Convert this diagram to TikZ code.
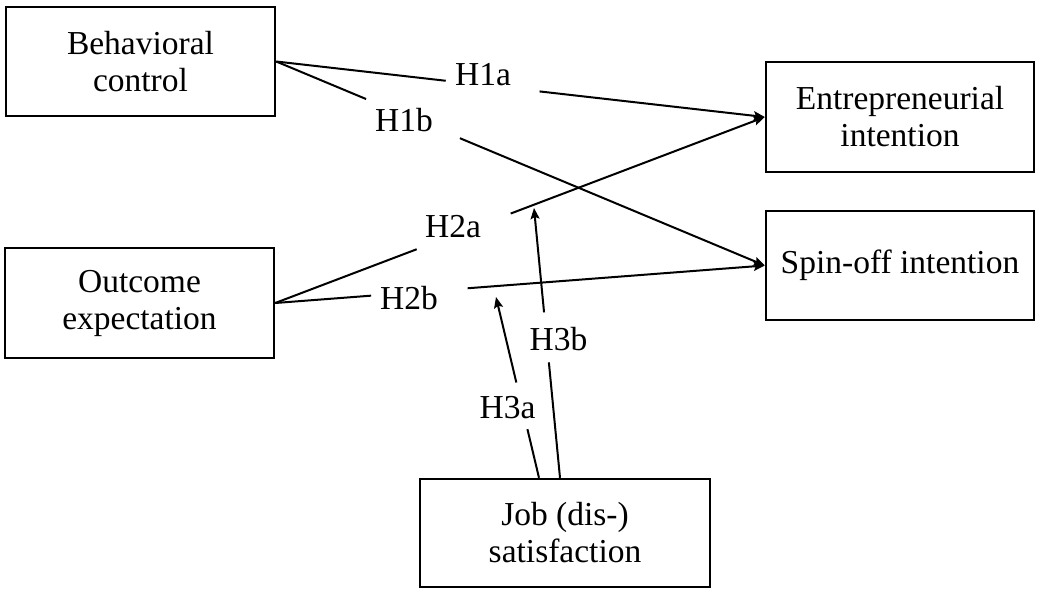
\documentclass[tikz,border=0pt]{standalone}
\usepackage{fontspec}
\setmainfont{Liberation Serif}
\usetikzlibrary{calc,arrows.meta}
\begin{document}
\begin{tikzpicture}[x=1pt,y=-1pt,
  every node/.style={font=\fontsize{33.5}{37}\selectfont},
  box/.style={draw,line width=2.4pt,inner sep=0pt,align=center},
  link/.style={line width=2pt},
  arr/.style={line width=2pt,-{Stealth[length=11pt,width=9pt,inset=2pt]}},
  hyp/.style={anchor=base,inner sep=0pt}]
\useasboundingbox (0,0) rectangle (1037,590);

% constructs
\node[box,minimum width=269pt,minimum height=109pt] (bc) at (140.5,61.5) {Behavioral\\control};
\node[box,minimum width=269pt,minimum height=110pt] (oe) at (139.5,303) {Outcome\\expectation};
\node[box,minimum width=268pt,minimum height=110pt] (ei) at (900,117) {Entrepreneurial\\intention};
\node[box,minimum width=268pt,minimum height=109pt] (so) at (900,265.5) {Spin-off intention};
\node[box,minimum width=290pt,minimum height=108pt] (jb) at (565,533) {Job (dis-)\\satisfaction};

% hypothesis labels
\node[hyp] (h1a) at (483,85) {H1a};
\node[hyp] (h1b) at (404,131) {H1b};
\node[hyp] (h2a) at (453,237) {H2a};
\node[hyp] (h2b) at (409,309) {H2b};
\node[hyp] (h3a) at (507.5,418) {H3a};
\node[hyp] (h3b) at (558.5,350) {H3b};

% direct effects, broken around their labels
\draw[link] (bc.east) -- ($(bc.east)!0.347!(ei.west)$);
\draw[arr] ($(bc.east)!0.539!(ei.west)$) -- (ei.west);
\draw[link] (bc.east) -- ($(bc.east)!0.184!(so.west)$);
\draw[arr] ($(bc.east)!0.376!(so.west)$) -- (so.west);
\draw[link] (oe.east) -- ($(oe.east)!0.289!(ei.west)$);
\draw[arr] ($(oe.east)!0.481!(ei.west)$) -- (ei.west);
\draw[link] (oe.east) -- ($(oe.east)!0.196!(so.west)$);
\draw[arr] ($(oe.east)!0.393!(so.west)$) -- (so.west);

% moderating effects of job (dis-)satisfaction
\coordinate (m3a) at ([xshift=-26pt]jb.north);
\coordinate (m3b) at ([xshift=-5pt]jb.north);
\coordinate (t3a) at (496,297);
\coordinate (t3b) at (534,208);
\draw[link] (m3a) -- ($(m3a)!0.269!(t3a)$);
\draw[arr] ($(m3a)!0.527!(t3a)$) -- (t3a);
\draw[link] (m3b) -- ($(m3b)!0.428!(t3b)$);
\draw[arr] ($(m3b)!0.613!(t3b)$) -- (t3b);
\end{tikzpicture}
\end{document}
